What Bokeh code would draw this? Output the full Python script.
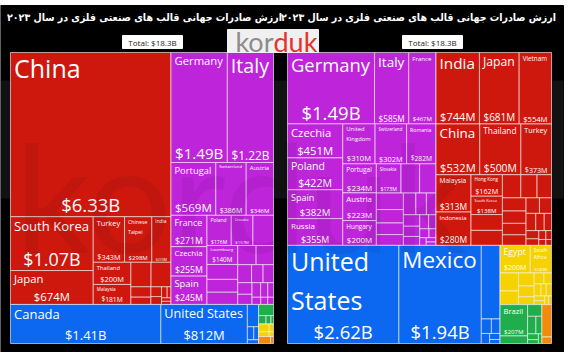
import math
from bokeh.plotting import figure
from bokeh.models import ColumnDataSource, Range1d
from bokeh.core.properties import value
from bokeh.embed import file_html
from bokeh.resources import INLINE

# ---------------- data ----------------
TITLE = "ارزش صادرات جهانی قالب های صنعتی فلزی در سال ۲۰۲۳"
TOTAL_LABEL = "Total: $18.3B"

# left treemap (exporters), values in $B
L_countries = ["China", "South Korea", "Japan", "Turkey", "Chinese Taipei", "India", "Thailand",
               "Malaysia", "Vietnam", "Singapore", "Hong Kong", "Indonesia", "Israel", "Iran",
               "Philippines", "Pakistan", "United Arab Emirates", "Saudi Arabia",
               "Germany", "Italy", "Portugal", "Switzerland", "Austria", "France", "Czechia", "Spain",
               "Poland", "Croatia", "United Kingdom", "Luxembourg", "Netherlands", "Slovenia", "Romania",
               "Slovakia", "Hungary", "Belgium", "Sweden", "Denmark", "Serbia", "Bulgaria", "Finland",
               "Lithuania", "Greece", "Norway", "Bosnia and Herzegovina", "Estonia",
               "Canada", "United States", "Mexico", "Dominican Republic", "Costa Rica", "Guatemala",
               "Brazil", "Argentina", "Colombia", "Chile",
               "South Africa", "Egypt", "Morocco", "Tunisia",
               "Australia", "New Zealand"]
L_values = [6.33, 1.07, 0.674, 0.343, 0.298, 0.210, 0.200,
            0.181, 0.119, 0.117, 0.050, 0.035, 0.025, 0.020,
            0.015, 0.010, 0.008, 0.007,
            1.49, 1.22, 0.569, 0.386, 0.346, 0.271, 0.255, 0.245,
            0.176, 0.157, 0.149, 0.140, 0.110, 0.095, 0.090,
            0.085, 0.080, 0.060, 0.050, 0.045, 0.040, 0.035, 0.030,
            0.025, 0.020, 0.015, 0.012, 0.010,
            1.41, 0.812, 0.060, 0.020, 0.015, 0.010,
            0.040, 0.015, 0.010, 0.005,
            0.020, 0.012, 0.008, 0.005,
            0.020, 0.005]
L_continents = (["Asia"] * 18 + ["Europe"] * 28 + ["North America"] * 6 +
                ["South America"] * 4 + ["Africa"] * 4 + ["Oceania"] * 2)

# right treemap (importers), values in $B
R_countries = ["Germany", "Italy", "France", "Czechia", "Poland", "Spain", "Russia", "United Kingdom",
               "Switzerland", "Romania", "Portugal", "Austria", "Hungary", "Slovakia", "Netherlands",
               "Belgium", "Serbia", "Slovenia", "Sweden", "Bulgaria", "Denmark", "Croatia", "Lithuania",
               "Finland", "Ukraine", "Belarus", "Greece", "Norway", "Bosnia and Herzegovina", "Estonia",
               "Latvia", "Ireland", "North Macedonia",
               "India", "Japan", "Vietnam", "China", "Thailand", "Turkey", "Malaysia", "Indonesia",
               "Hong Kong", "South Korea", "Chinese Taipei", "Philippines", "Saudi Arabia", "Israel",
               "United Arab Emirates", "Singapore", "Iran", "Uzbekistan", "Kazakhstan", "Pakistan",
               "Bangladesh", "Sri Lanka", "Iraq", "Jordan", "Qatar", "Oman", "Kuwait", "Cambodia",
               "Azerbaijan", "Georgia",
               "United States", "Mexico", "Canada", "Guatemala", "Costa Rica", "Dominican Republic",
               "Honduras", "El Salvador",
               "Egypt", "South Africa", "Algeria", "Morocco", "Nigeria", "Tunisia", "Kenya", "Ghana",
               "Ethiopia", "Tanzania", "Ivory Coast", "Senegal", "Angola", "Zambia", "Uganda", "Cameroon",
               "Brazil", "Argentina", "Chile", "Colombia", "Peru", "Ecuador", "Uruguay", "Bolivia",
               "Australia", "New Zealand"]
R_values = [1.49, 0.585, 0.467, 0.451, 0.422, 0.382, 0.355, 0.310,
            0.302, 0.282, 0.234, 0.223, 0.200, 0.173, 0.130,
            0.115, 0.107, 0.087, 0.075, 0.070, 0.065, 0.055, 0.050,
            0.045, 0.040, 0.035, 0.030, 0.025, 0.020, 0.015,
            0.012, 0.010, 0.008,
            0.744, 0.681, 0.554, 0.532, 0.500, 0.373, 0.313, 0.280,
            0.162, 0.138, 0.119, 0.113, 0.102, 0.090,
            0.080, 0.075, 0.070, 0.065, 0.060, 0.050,
            0.045, 0.040, 0.035, 0.030, 0.025, 0.020, 0.015, 0.012,
            0.010, 0.008,
            2.62, 1.94, 0.330, 0.035, 0.030, 0.020,
            0.015, 0.010,
            0.200, 0.140, 0.080, 0.060, 0.050, 0.040, 0.030, 0.025,
            0.020, 0.020, 0.015, 0.015, 0.012, 0.010, 0.008, 0.006,
            0.207, 0.050, 0.040, 0.035, 0.025, 0.015, 0.010, 0.008,
            0.075, 0.015]
R_continents = (["Europe"] * 33 + ["Asia"] * 30 + ["North America"] * 8 +
                ["Africa"] * 16 + ["South America"] * 8 + ["Oceania"] * 2)

COLORS = {"Asia": "#CE180E", "Europe": "#BE24DA", "North America": "#0C68F0",
          "South America": "#1FAE4B", "Africa": "#F6D200", "Oceania": "#F28A0C"}

W, H = 570, 352
PHI = (1 + 5 ** 0.5) / 2

# -------------- d3-style squarified treemap --------------
def squarify(vals, x0, y0, x1, y1, ratio=PHI):
    n = len(vals)
    rects = [None] * n
    i0 = i1 = 0
    total = float(sum(vals))
    while i0 < n:
        dx, dy = x1 - x0, y1 - y0
        s = vals[i1]; i1 += 1
        mn = mx = s
        alpha = max(dy / dx, dx / dy) / (total * ratio)
        beta = s * s * alpha
        minr = max(mx / beta, beta / mn)
        while i1 < n:
            nv = vals[i1]
            s2 = s + nv
            mn2, mx2 = min(mn, nv), max(mx, nv)
            beta = s2 * s2 * alpha
            nr = max(mx2 / beta, beta / mn2)
            if nr > minr:
                break
            s, mn, mx, minr = s2, mn2, mx2, nr
            i1 += 1
        if dx < dy:
            yb = y0 + dy * s / total
            xx = x0
            for i in range(i0, i1):
                w = (x1 - x0) * vals[i] / s
                rects[i] = (xx, y0, xx + w, yb); xx += w
            y0 = yb
        else:
            xb = x0 + dx * s / total
            yy = y0
            for i in range(i0, i1):
                h = (y1 - y0) * vals[i] / s
                rects[i] = (x0, yy, xb, yy + h); yy += h
            x0 = xb
        total -= s
        i0 = i1
    return rects

CW = {' ': .26, 'a': .56, 'b': .61, 'c': .48, 'd': .61, 'e': .56, 'f': .34, 'g': .54, 'h': .61,
      'i': .25, 'j': .25, 'k': .52, 'l': .25, 'm': .93, 'n': .61, 'o': .60, 'p': .61, 'q': .61,
      'r': .41, 's': .48, 't': .35, 'u': .61, 'v': .50, 'w': .78, 'x': .52, 'y': .50, 'z': .47,
      'A': .63, 'B': .65, 'C': .63, 'D': .73, 'E': .56, 'F': .52, 'G': .72, 'H': .74, 'I': .28,
      'J': .26, 'K': .61, 'L': .53, 'M': .91, 'N': .76, 'O': .78, 'P': .60, 'R': .62, 'S': .55,
      'T': .55, 'U': .73, 'V': .59, 'W': .93, 'X': .58, 'Y': .57, 'Z': .56, '$': .57, '.': .27}

def em(s):
    return sum(CW.get(c, .57) for c in s)

def fmt(v):
    return "$%.2fB" % v if v >= 1 else "$%dM" % round(v * 1000)

def build(names, vals, conts, box):
    groups = {}
    for n_, v_, c_ in zip(names, vals, conts):
        groups.setdefault(c_, []).append((v_, n_))
    order = sorted(groups, key=lambda c: -sum(v for v, _ in groups[c]))
    grects = squarify([sum(v for v, _ in groups[c]) for c in order], *box)
    cells = dict(l=[], r=[], t=[], b=[], color=[])
    nl = dict(x=[], y=[], text=[], fs=[])
    vl = dict(x=[], y=[], text=[], fs=[])
    for c, gr in zip(order, grects):
        items = sorted(groups[c], key=lambda t: -t[0])
        rects = squarify([v for v, _ in items], *gr)
        for (v, name), (x0, y0, x1, y1) in zip(items, rects):
            cells["l"].append(x0); cells["r"].append(x1)
            cells["t"].append(y0); cells["b"].append(y1)
            cells["color"].append(COLORS[c])
            w, h = x1 - x0, y1 - y0
            vt = fmt(v)
            fv = min(18.5, (w - 8) / em(vt), h / 3.0)
            hn = h - fv * 1.25 - 6
            best = (min(25, (w - 8) / em(name), hn / 1.2, h / 3.0), name)
            if " " in name:
                words = name.split(" ")
                if len(words) > 2:
                    words = [" ".join(words[:-1]), words[-1]]
                f2 = min(25, (w - 8) / max(em(wd) for wd in words), hn / 2.4)
                if f2 > best[0]:
                    best = (f2, "\n".join(words))
            fn, ntext = best
            if fn >= 3.6 and fv >= 3.3:
                nl["x"].append(x0 + 3.5); nl["y"].append(y0 + 2.5 - 0.16 * fn)
                nl["text"].append(ntext); nl["fs"].append("%.1fpx" % fn)
                vl["x"].append((x0 + x1) / 2); vl["y"].append(y1 - 0.58 * fv - 1)
                vl["text"].append(vt); vl["fs"].append("%.1fpx" % fv)
    return cells, nl, vl

p = figure(width=W, height=H, x_range=Range1d(0, W), y_range=Range1d(H, 0),
           output_backend="svg", toolbar_location=None, min_border=0)
p.axis.visible = False
p.grid.visible = False
p.outline_line_color = None
p.background_fill_color = "white"
p.border_fill_color = "white"

p.quad(left=[0], right=[563], top=[5], bottom=[H], color="black")
# faint watermark band
p.quad(left=[0], right=[563], top=[80], bottom=[198], color="white", alpha=0.07, line_color=None)

for names, vals, conts, box, tx in [
        (L_countries, L_values, L_continents, (10, 52, 273, 343), 152),
        (R_countries, R_values, R_continents, (287, 52, 551, 343), 432)]:
    cells, nl, vl = build(names, vals, conts, box)
    p.quad(left="l", right="r", top="t", bottom="b", fill_color="color",
           line_color="white", line_alpha=0.6, line_width=1, source=ColumnDataSource(cells))
    p.text(x="x", y="y", text="text", text_font_size="fs", source=ColumnDataSource(nl),
           text_color="white", text_font=value("Open Sans"), text_baseline="top",
           text_align="left", text_line_height=1.15)
    p.text(x="x", y="y", text="text", text_font_size="fs", source=ColumnDataSource(vl),
           text_color="white", text_font=value("Open Sans"), text_baseline="alphabetic",
           text_align="center")
    # total box
    p.quad(left=[tx - 30], right=[tx + 30], top=[35], bottom=[48], color="white")
    p.text(x=[tx], y=[41.5], text=[TOTAL_LABEL], text_font_size="8px", text_color="#222222",
           text_font=value("Open Sans"), text_baseline="middle", text_align="center")

# faint watermark letters
p.text(x=[14], y=[194], text=["korduk"], text_font_size="150px", text_color="black",
       text_alpha=0.06, text_font=value("Lato"), text_baseline="alphabetic", text_align="left")

# titles
p.text(x=[144, 418], y=[16, 16], text=[TITLE, TITLE], text_font_size="10.5px", text_color="white",
       text_font=value("DejaVu Sans Condensed"), text_font_style="bold", text_baseline="middle",
       text_align="center")

# logo
p.quad(left=[227], right=[318], top=[29], bottom=[52], color="#f0f0f0")
p.text(x=[273], y=[41], text=["kor"], text_font_size="27px", text_color="#8c8c8c",
       text_font=value("Lato"), text_baseline="middle", text_align="right")
p.text(x=[273], y=[41], text=["duk"], text_font_size="27px", text_color="#e3342b",
       text_font=value("Lato"), text_baseline="middle", text_align="left")

open("out.html", "w").write(file_html(p, INLINE))
